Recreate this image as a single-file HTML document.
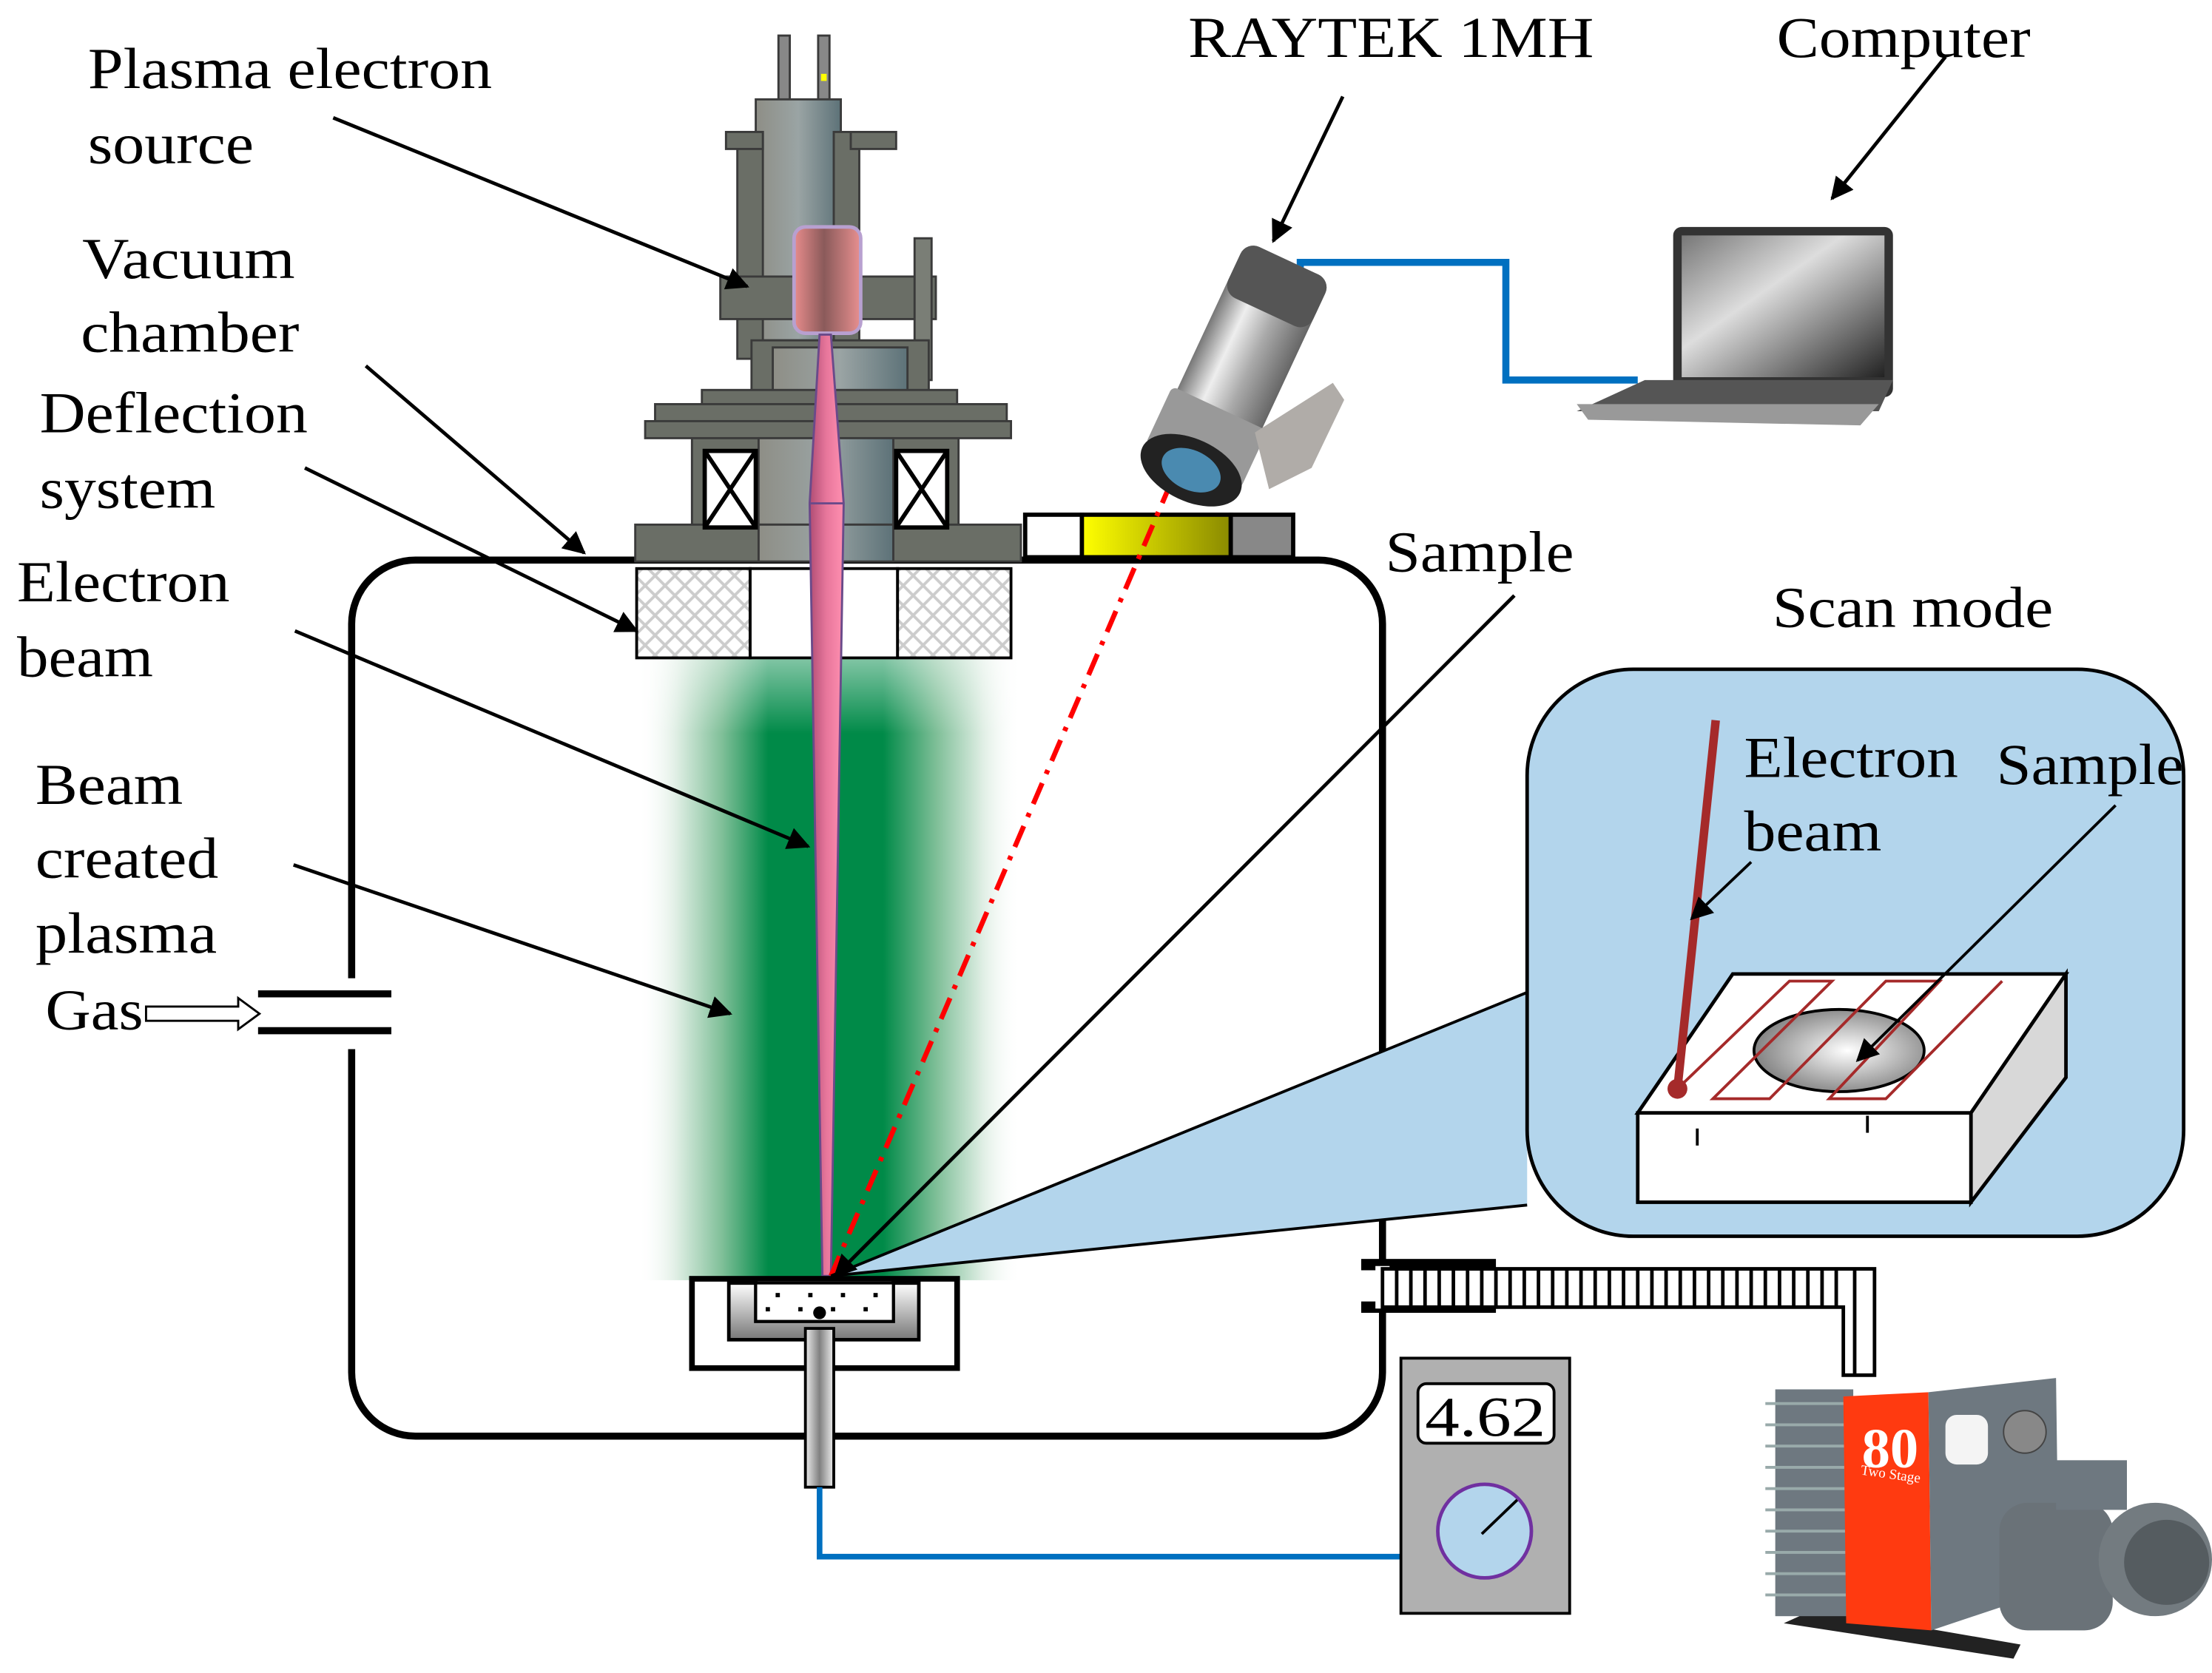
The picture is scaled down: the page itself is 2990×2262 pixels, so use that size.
<!DOCTYPE html>
<html><head><meta charset="utf-8"><style>
html,body{margin:0;padding:0;background:#fff;}
svg{display:block;}
text{font-family:"Liberation Serif",serif;fill:#000;}
</style></head><body>
<svg width="2990" height="2262" viewBox="0 0 1560 1180" xmlns="http://www.w3.org/2000/svg">
<defs>
<marker id="arS" viewBox="0 0 10 10" markerWidth="16" markerHeight="16" refX="9" refY="5" orient="auto" markerUnits="userSpaceOnUse">
<path d="M0,0 L10,5 L0,10 Z" fill="#000"/></marker>
<linearGradient id="plasma" x1="0" x2="1" y1="0" y2="0">
<stop offset="0" stop-color="#fff" stop-opacity="0"/>
<stop offset="0.1" stop-color="#dfeee4"/>
<stop offset="0.22" stop-color="#7fbf98"/>
<stop offset="0.34" stop-color="#008a48"/>
<stop offset="0.64" stop-color="#008a48"/>
<stop offset="0.78" stop-color="#7fbf98"/>
<stop offset="0.9" stop-color="#dfeee4"/>
<stop offset="1" stop-color="#fff" stop-opacity="0"/>
</linearGradient>
<linearGradient id="pfade" x1="0" y1="0" x2="0" y2="1">
<stop offset="0" stop-color="#fff" stop-opacity="0.5"/>
<stop offset="0.12" stop-color="#fff" stop-opacity="0"/>
</linearGradient>
<linearGradient id="pink" x1="0" x2="1"><stop offset="0" stop-color="#b04d74"/><stop offset="0.5" stop-color="#e8779c"/><stop offset="1" stop-color="#ff8fb0"/></linearGradient>
<linearGradient id="cyl" x1="0" x2="1"><stop offset="0" stop-color="#e88c8c"/><stop offset="0.45" stop-color="#8a5a5a"/><stop offset="1" stop-color="#e89090"/></linearGradient>
<linearGradient id="metal" x1="0" x2="1"><stop offset="0" stop-color="#8e8e86"/><stop offset="0.5" stop-color="#9aa4a4"/><stop offset="1" stop-color="#5d7278"/></linearGradient>
<linearGradient id="rod" x1="0" x2="1"><stop offset="0" stop-color="#eee"/><stop offset="0.5" stop-color="#808080"/><stop offset="1" stop-color="#eee"/></linearGradient>
<linearGradient id="ugray" x1="0" y1="0" x2="0" y2="1"><stop offset="0" stop-color="#fff"/><stop offset="1" stop-color="#777"/></linearGradient>
<linearGradient id="yel" x1="0" x2="1"><stop offset="0" stop-color="#ffff00"/><stop offset="1" stop-color="#8a8a00"/></linearGradient>
<radialGradient id="ell" cx="0.55" cy="0.5" r="0.6"><stop offset="0" stop-color="#fff"/><stop offset="1" stop-color="#777"/></radialGradient>
<linearGradient id="cam" x1="0" x2="1"><stop offset="0" stop-color="#777"/><stop offset="0.3" stop-color="#eee"/><stop offset="0.6" stop-color="#aaa"/><stop offset="1" stop-color="#666"/></linearGradient>
<linearGradient id="scr" x1="0" y1="0" x2="1" y2="1"><stop offset="0" stop-color="#777"/><stop offset="0.4" stop-color="#ddd"/><stop offset="1" stop-color="#222"/></linearGradient>
<pattern id="hatch" width="14" height="14" patternUnits="userSpaceOnUse"><rect width="14" height="14" fill="#fff"/><path d="M0,0L14,14M14,0L0,14" stroke="#ccc" stroke-width="2"/></pattern>
</defs>

<!-- plasma -->
<rect x="450" y="465" width="270" height="438" fill="url(#plasma)"/>
<rect x="450" y="465" width="270" height="438" fill="url(#pfade)"/>

<!-- chamber -->
<rect x="248" y="395" width="727" height="618" rx="45" fill="none" stroke="#000" stroke-width="5"/>

<!-- gas inlet -->
<rect x="240" y="690" width="20" height="50" fill="#fff"/>
<line x1="182" y1="701" x2="276" y2="701" stroke="#000" stroke-width="5"/>
<line x1="182" y1="727" x2="276" y2="727" stroke="#000" stroke-width="5"/>
<path d="M103,710 L168,710 L168,704 L183,715 L168,726 L168,720 L103,720 Z" fill="#fff" stroke="#000" stroke-width="1.5"/>

<!-- gun -->
<g stroke="#3a3a3a" stroke-width="1.5">
<rect x="549" y="25" width="8" height="50" fill="#888"/>
<rect x="577" y="25" width="8" height="50" fill="#888"/>
<rect x="533" y="70" width="60" height="170" fill="url(#metal)"/>
<rect x="520" y="93" width="18" height="160" fill="#6a6e66"/>
<rect x="588" y="93" width="18" height="160" fill="#6a6e66"/>
<rect x="512" y="93" width="26" height="12" fill="#6a6e66"/>
<rect x="600" y="93" width="32" height="12" fill="#6a6e66"/>
<rect x="508" y="195" width="152" height="30" fill="#6a6e66"/>
<rect x="645" y="168" width="12" height="100" fill="#7a7e76"/>
<rect x="530" y="240" width="125" height="50" fill="#6a6e66"/>
<rect x="545" y="245" width="95" height="45" fill="url(#metal)"/>
<rect x="495" y="275" width="180" height="12" fill="#6a6e66"/>
<rect x="462" y="285" width="248" height="14" fill="#6a6e66"/>
<rect x="455" y="297" width="258" height="12" fill="#6a6e66"/>
<rect x="488" y="309" width="188" height="65" fill="#6a6e66"/>
<rect x="535" y="309" width="95" height="85" fill="url(#metal)"/>
<rect x="448" y="370" width="272" height="26" fill="#6a6e66"/>
<rect x="535" y="370" width="95" height="26" fill="url(#metal)"/>
</g>
<g stroke="#000" stroke-width="3" fill="#fff">
<rect x="497" y="318" width="36" height="54"/><path d="M497,318L533,372M533,318L497,372" fill="none"/>
<rect x="632" y="318" width="36" height="54"/><path d="M632,318L668,372M668,318L632,372" fill="none"/>
</g>
<rect x="579" y="52" width="4" height="5" fill="#ff0"/>
<rect x="560" y="160" width="47" height="75" rx="8" fill="url(#cyl)" stroke="#b8a0d0" stroke-width="2.5"/>

<!-- deflection -->
<rect x="449" y="401" width="80" height="63" fill="url(#hatch)" stroke="#000" stroke-width="2"/>
<rect x="529" y="401" width="104" height="63" fill="none" stroke="#000" stroke-width="2"/>
<rect x="633" y="401" width="80" height="63" fill="url(#hatch)" stroke="#000" stroke-width="2"/>

<!-- beam -->
<path d="M578,236 L586,236 L595,355 L586,900 L580,900 L571,355 Z" fill="url(#pink)" stroke="#6a4a8a" stroke-width="1.5"/>
<line x1="571" y1="355" x2="595" y2="355" stroke="#6a4a8a" stroke-width="1.5"/>

<!-- raytek plate -->
<rect x="723" y="363" width="40" height="30" fill="#fff" stroke="#000" stroke-width="3"/>
<rect x="763" y="363" width="105" height="30" fill="url(#yel)" stroke="#000" stroke-width="3"/>
<rect x="868" y="363" width="44" height="30" fill="#888" stroke="#000" stroke-width="3"/>

<!-- red dash dot -->
<line x1="826" y1="340" x2="586" y2="900" stroke="#f00" stroke-width="3.5" stroke-dasharray="16,7,3,7"/>

<!-- callout -->
<path d="M586,900 L1077,700 L1077,850 Z" fill="#b3d5ec"/>
<line x1="586" y1="900" x2="1077" y2="700" stroke="#000" stroke-width="2"/>
<line x1="586" y1="900" x2="1077" y2="850" stroke="#000" stroke-width="2"/>
<rect x="1077" y="472" width="463" height="400" rx="75" fill="#b3d5ec" stroke="#000" stroke-width="2.5"/>
<!-- block -->
<path d="M1155,785 L1222,687 L1457,687 L1390,785 Z" fill="#fff" stroke="#000" stroke-width="2.5"/>
<path d="M1390,785 L1457,687 L1457,760 L1390,848 Z" fill="#d8d8d8" stroke="#000" stroke-width="2.5"/>
<rect x="1155" y="785" width="235" height="63" fill="#fff" stroke="#000" stroke-width="2.5"/>
<line x1="1197" y1="796" x2="1197" y2="808" stroke="#000" stroke-width="2"/>
<line x1="1317" y1="787" x2="1317" y2="799" stroke="#000" stroke-width="2"/>
<ellipse cx="1297" cy="741" rx="60" ry="29" fill="url(#ell)" stroke="#000" stroke-width="2"/>
<g stroke="#a52a2a" stroke-width="2" fill="none">
<path d="M1183,768 L1262,692 L1292,692 L1208,775 L1248,775 L1330,692 L1368,692 L1290,775 L1330,775 L1412,692 L1330,775"/>
</g>
<line x1="1210" y1="508" x2="1183" y2="768" stroke="#a52a2a" stroke-width="6"/>
<circle cx="1183" cy="768" r="7" fill="#a52a2a"/>
<line x1="1492" y1="568" x2="1310" y2="748" stroke="#000" stroke-width="2" marker-end="url(#arS)"/>
<line x1="1235" y1="608" x2="1193" y2="648" stroke="#000" stroke-width="2" marker-end="url(#arS)"/>

<!-- sample holder -->
<rect x="488" y="902" width="187" height="63" fill="#fff" stroke="#000" stroke-width="4"/>
<path d="M514,905 L514,945 L648,945 L648,905 L630,905 L630,932 L533,932 L533,905 Z" fill="url(#ugray)" stroke="#000" stroke-width="2.5"/>
<rect x="533" y="905" width="97" height="27" fill="#fff" stroke="#000" stroke-width="2"/>
<g fill="#000"><rect x="547" y="912" width="3" height="3"/><rect x="570" y="912" width="3" height="3"/><rect x="593" y="912" width="3" height="3"/><rect x="616" y="912" width="3" height="3"/><rect x="540" y="922" width="3" height="3"/><rect x="563" y="922" width="3" height="3"/><rect x="586" y="922" width="3" height="3"/><rect x="609" y="922" width="3" height="3"/></g>
<circle cx="578" cy="926" r="4.5" fill="#000"/>
<rect x="568" y="937" width="20" height="112" fill="url(#rod)" stroke="#000" stroke-width="2"/>

<!-- blue lines -->
<path d="M578,1049 L578,1098 L988,1098" fill="none" stroke="#0070c0" stroke-width="4"/>
<path d="M917,200 L917,185 L1062,185 L1062,268 L1155,268" fill="none" stroke="#0070c0" stroke-width="5"/>

<!-- meter -->
<rect x="988" y="958" width="119" height="180" fill="#b0b0b0" stroke="#000" stroke-width="2"/>
<rect x="1000" y="976" width="96" height="42" rx="6" fill="#fff" stroke="#000" stroke-width="2"/>
<text x="1005" y="1013" font-size="40" textLength="85" lengthAdjust="spacingAndGlyphs">4.62</text>
<circle cx="1047" cy="1080" r="33" fill="#b3d5ec" stroke="#7030a0" stroke-width="2.5"/>
<line x1="1045" y1="1082" x2="1070" y2="1058" stroke="#000" stroke-width="2"/>

<!-- pump pipe -->
<rect x="960" y="888" width="95" height="8" fill="#000"/>
<rect x="960" y="918" width="95" height="8" fill="#000"/>
<rect x="970" y="893" width="10" height="30" fill="#fff"/>
<path d="M975,895 L1322,895 L1322,970 L1300,970 L1300,922 L975,922 Z" fill="#fff" stroke="#000" stroke-width="2.5"/>
<path d="M985,895 V922 M995,895 V922 M1005,895 V922 M1015,895 V922 M1025,895 V922 M1035,895 V922 M1045,895 V922 M1055,895 V922 M1065,895 V922 M1075,895 V922 M1085,895 V922 M1095,895 V922 M1105,895 V922 M1115,895 V922 M1125,895 V922 M1135,895 V922 M1145,895 V922 M1155,895 V922 M1165,895 V922 M1175,895 V922 M1185,895 V922 M1195,895 V922 M1205,895 V922 M1215,895 V922 M1225,895 V922 M1235,895 V922 M1245,895 V922 M1255,895 V922 M1265,895 V922 M1275,895 V922 M1285,895 V922 M1295,895 V922 M1308,895 V970" stroke="#000" stroke-width="2.5"/>

<!-- pump -->
<path d="M1258,1145 L1420,1170 L1425,1160 L1280,1135 Z" fill="#222"/>
<rect x="1252" y="980" width="55" height="160" fill="#6e7880"/>
<g stroke="#9aa" stroke-width="2"><path d="M1245,990H1305M1245,1005H1305M1245,1020H1305M1245,1035H1305M1245,1050H1305M1245,1065H1305M1245,1080H1305M1245,1095H1305M1245,1110H1305M1245,1125H1305"/></g>
<path d="M1300,985 L1360,982 L1362,1150 L1302,1145 Z" fill="#ff3a10"/>
<text x="1313" y="1035" font-family="Liberation Sans,sans-serif" font-size="40" style="fill:#fff" font-weight="bold">80</text>
<text x="1312" y="1040" font-family="Liberation Sans,sans-serif" font-size="10" style="fill:#fff" transform="rotate(8 1312 1040)">Two Stage</text>
<path d="M1360,982 L1450,972 L1452,1120 L1362,1150 Z" fill="#6e7880"/>
<rect x="1372" y="998" width="30" height="35" rx="8" fill="#f4f4f4"/>
<circle cx="1428" cy="1010" r="15" fill="#888" stroke="#444"/>
<rect x="1410" y="1060" width="80" height="90" rx="20" fill="#6a7278"/>
<rect x="1450" y="1030" width="50" height="35" fill="#6e7880"/>
<circle cx="1520" cy="1100" r="40" fill="#737b80"/>
<circle cx="1528" cy="1102" r="30" fill="#555c60"/>

<!-- camera -->
<g transform="rotate(25 870 265)">
<rect x="838" y="175" width="66" height="160" rx="10" fill="url(#cam)"/>
<rect x="838" y="175" width="66" height="40" rx="10" fill="#555"/>
<rect x="834" y="290" width="74" height="45" rx="4" fill="#999"/>
<ellipse cx="871" cy="338" rx="38" ry="22" fill="#222"/>
<ellipse cx="871" cy="338" rx="22" ry="14" fill="#4a8ab0"/>
</g>
<path d="M885,305 L940,270 L948,282 L925,330 L895,345 Z" fill="#b0aca8"/>

<!-- laptop -->
<rect x="1180" y="160" width="155" height="120" rx="6" fill="#333"/>
<rect x="1186" y="166" width="143" height="100" fill="url(#scr)"/>
<path d="M1160,268 L1335,268 L1325,290 L1112,290 Z" fill="#555"/>
<path d="M1112,285 L1325,285 L1312,300 L1120,296 Z" fill="#999"/>

<!-- arrows -->
<g stroke="#000" stroke-width="2.5" fill="none" marker-end="url(#arS)">
<line x1="235" y1="83" x2="527" y2="202"/>
<line x1="258" y1="258" x2="412" y2="390"/>
<line x1="215" y1="330" x2="449" y2="445"/>
<line x1="208" y1="445" x2="570" y2="597"/>
<line x1="207" y1="610" x2="515" y2="715"/>
<line x1="947" y1="68" x2="898" y2="170"/>
<line x1="1372" y1="40" x2="1292" y2="140"/>
<line x1="1068" y1="420" x2="589" y2="900"/>
</g>

<!-- labels -->
<g font-size="41">
<text x="62" y="62" textLength="285" lengthAdjust="spacingAndGlyphs">Plasma electron</text>
<text x="62" y="115" textLength="117" lengthAdjust="spacingAndGlyphs">source</text>
<text x="58" y="196" textLength="150" lengthAdjust="spacingAndGlyphs">Vacuum</text>
<text x="57" y="248" textLength="154" lengthAdjust="spacingAndGlyphs">chamber</text>
<text x="28" y="305" textLength="189" lengthAdjust="spacingAndGlyphs">Deflection</text>
<text x="28" y="358" textLength="124" lengthAdjust="spacingAndGlyphs">system</text>
<text x="12" y="424" textLength="150" lengthAdjust="spacingAndGlyphs">Electron</text>
<text x="12" y="477" textLength="96" lengthAdjust="spacingAndGlyphs">beam</text>
<text x="25" y="567" textLength="104" lengthAdjust="spacingAndGlyphs">Beam</text>
<text x="25" y="619" textLength="129" lengthAdjust="spacingAndGlyphs">created</text>
<text x="25" y="672" textLength="128" lengthAdjust="spacingAndGlyphs">plasma</text>
<text x="32" y="726" textLength="69" lengthAdjust="spacingAndGlyphs">Gas</text>
<text x="838" y="40" textLength="286" lengthAdjust="spacingAndGlyphs">RAYTEK 1MH</text>
<text x="1253" y="40" textLength="179" lengthAdjust="spacingAndGlyphs">Computer</text>
<text x="977" y="403" textLength="133" lengthAdjust="spacingAndGlyphs">Sample</text>
<text x="1250" y="442" textLength="198" lengthAdjust="spacingAndGlyphs">Scan mode</text>
<text x="1230" y="548" textLength="151" lengthAdjust="spacingAndGlyphs">Electron</text>
<text x="1230" y="600" textLength="97" lengthAdjust="spacingAndGlyphs">beam</text>
<text x="1408" y="553" textLength="132" lengthAdjust="spacingAndGlyphs">Sample</text>
</g>
</svg>
</body></html>
